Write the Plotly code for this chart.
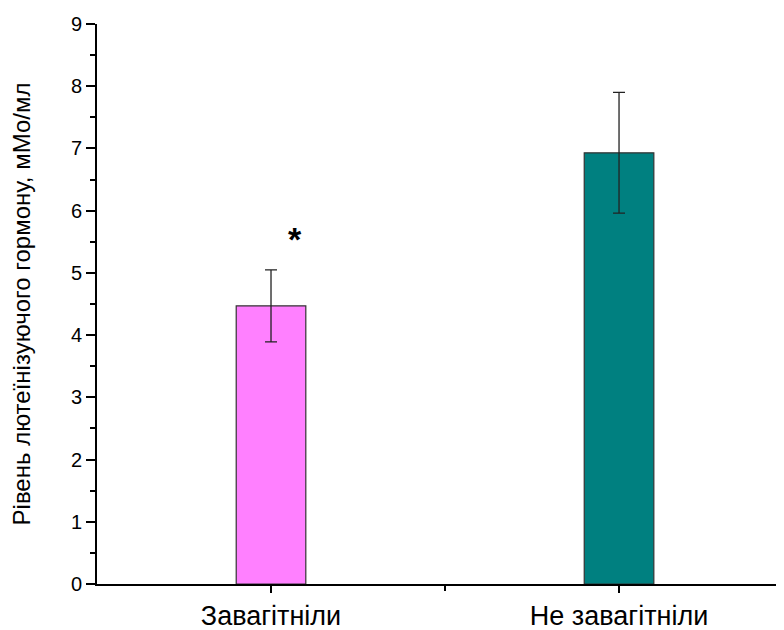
import plotly.graph_objects as go

categories = ["Завагітніли", "Не завагітніли"]
values = [4.47, 6.93]
errors = [0.58, 0.97]
colors = ["#FF80FF", "#008080"]
x_pos = [1, 2]
star_x = 1.07
star_y = 5.55

fig = go.Figure()
fig.add_trace(go.Bar(
    x=x_pos, y=values, width=0.2,
    marker=dict(color=colors, line=dict(color="#333333", width=1.2)),
    error_y=dict(type="data", array=errors, visible=True, color="#222222", thickness=1.3, width=6),
    showlegend=False,
))
fig.add_annotation(x=star_x, y=star_y, text="<b>*</b>", showarrow=False,
                   font=dict(size=34, color="black", family="Liberation Sans"))

# the page body has an 8px margin, so the figure is shifted by that amount
fig.update_layout(
    width=784, height=630,
    margin=dict(l=89, r=0, t=16, b=54),
    plot_bgcolor="white", paper_bgcolor="white",
    font=dict(family="Liberation Sans, Arial", color="black"),
    xaxis=dict(
        range=[0.5, 2.497], tickmode="array", tickvals=x_pos, ticktext=categories,
        showline=True, linecolor="black", linewidth=2, automargin=False,
        ticks="outside", ticklen=7, tickwidth=2, tickcolor="black",
        tickfont=dict(size=27), showgrid=False, zeroline=False,
        minor=dict(tickmode="array", tickvals=[1.5], ticks="outside", ticklen=5, tickwidth=2, tickcolor="black"),
    ),
    yaxis=dict(
        range=[0, 9], dtick=1, showline=True, linecolor="black", linewidth=2, automargin=False,
        ticks="outside", ticklen=9, tickwidth=2, tickcolor="black",
        tickfont=dict(size=20), showgrid=False, zeroline=False,
        minor=dict(dtick=0.5, ticks="outside", ticklen=5, tickwidth=2, tickcolor="black"),
        title=dict(text="Рівень лютеїнізуючого гормону, мМо/мл", font=dict(size=24), standoff=38),
    ),
)

fig.write_html("out.html")
